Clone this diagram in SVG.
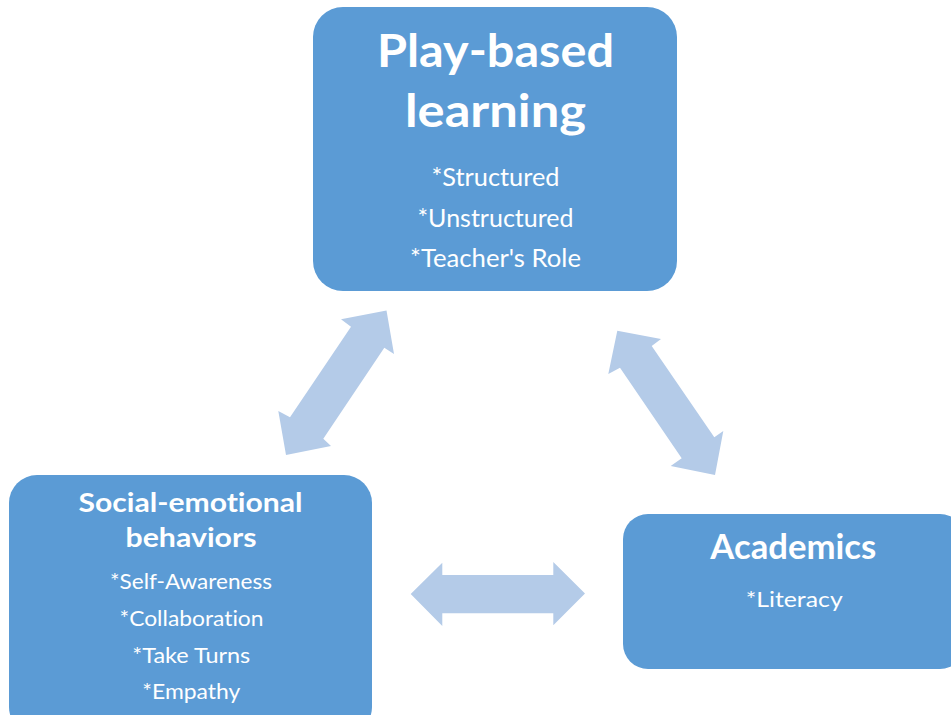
<svg xmlns="http://www.w3.org/2000/svg" width="951" height="715" viewBox="0 0 951 715">
  <style>
    .box { fill: #5B9BD5; }
    .conn { fill: #B4CBE8; }
    text { fill: #FFFFFF; font-family: Lato, "Open Sans", "Liberation Sans", sans-serif; text-anchor: middle; font-variant-ligatures: none; }
    .h1 { font-weight: bold; font-size: 45px; }
    .h2 { font-weight: bold; font-size: 27px; }
    .h3 { font-weight: bold; font-size: 33.5px; }
    .s1 { font-size: 25px; }
    .s2 { font-size: 21.5px; }
  </style>
  <rect width="951" height="715" fill="#FFFFFF"/>

  <!-- double-headed block arrows between the three boxes -->
  <g id="connectors">
    <polygon class="conn" points="386.5,310.5 394,354 384.3,347.7 323.3,438.7 331,446 286,455 278.3,411 290,417.3 351,326.7 341,319.3"/>
    <polygon class="conn" points="617.3,330.7 661,339 651.7,346 714.3,437.3 723.3,431 715,475 670.7,466 681.7,458.3 620,367.7 608.3,374"/>
    <polygon class="conn" points="410.7,594 442.3,562.7 442.3,575 553.3,575 553.3,562 585,593.5 553.3,625.3 553.3,613.3 442.3,613.3 442.3,626"/>
  </g>

  <g id="play-based-learning">
    <rect class="box" x="313" y="7" width="364" height="284" rx="30" ry="30"/>
    <text class="h1" x="495.5" y="66.7" textLength="237" lengthAdjust="spacingAndGlyphs">Play-based</text>
    <text class="h1" x="495.5" y="127" textLength="181" lengthAdjust="spacingAndGlyphs">learning</text>
    <text class="s1" x="495.5" y="186" textLength="128" lengthAdjust="spacingAndGlyphs">*Structured</text>
    <text class="s1" x="495.5" y="226.7" textLength="156" lengthAdjust="spacingAndGlyphs">*Unstructured</text>
    <text class="s1" x="495.5" y="266.7" textLength="171" lengthAdjust="spacingAndGlyphs">*Teacher's Role</text>
  </g>

  <g id="social-emotional">
    <rect class="box" x="9" y="475" width="363" height="260" rx="28" ry="28"/>
    <text class="h2" x="190.5" y="511.7" textLength="224" lengthAdjust="spacingAndGlyphs">Social-emotional</text>
    <text class="h2" x="191" y="546.7" textLength="131" lengthAdjust="spacingAndGlyphs">behaviors</text>
    <text class="s2" x="191" y="589" textLength="162" lengthAdjust="spacingAndGlyphs">*Self-Awareness</text>
    <text class="s2" x="191.5" y="626" textLength="144" lengthAdjust="spacingAndGlyphs">*Collaboration</text>
    <text class="s2" x="191.3" y="662.7" textLength="118" lengthAdjust="spacingAndGlyphs">*Take Turns</text>
    <text class="s2" x="191.3" y="699.3" textLength="98" lengthAdjust="spacingAndGlyphs">*Empathy</text>
  </g>

  <g id="academics">
    <rect class="box" x="623" y="514" width="342" height="155" rx="25" ry="25"/>
    <text class="h3" x="793.3" y="559.3" textLength="166" lengthAdjust="spacingAndGlyphs">Academics</text>
    <text class="s2" x="794.2" y="606.7" textLength="97" lengthAdjust="spacingAndGlyphs">*Literacy</text>
  </g>
</svg>
